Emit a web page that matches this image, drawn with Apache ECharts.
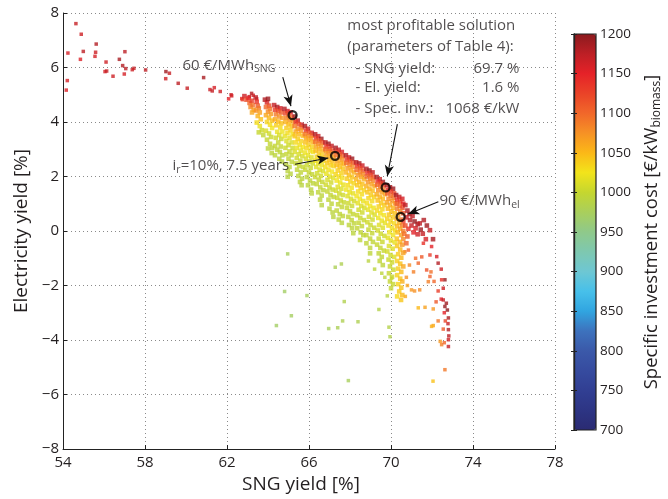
<!DOCTYPE html>
<html><head><meta charset="utf-8">
<script src="https://cdn.jsdelivr.net/npm/echarts@6/dist/echarts.min.js"></script>
<style>html,body{margin:0;padding:0;background:#fff}#c{width:668px;height:499px}</style>
</head><body><div id="c"></div>
<script>
// [SNG yield %, electricity yield %, specific investment cost €/kW]
const tailPoints = [
[54.63,7.61,1170],[54.24,6.53,1160],[54.89,7.22,1165],[54.85,6.30,1155],[54.99,6.59,1175],[55.62,6.86,1180],[55.59,6.56,1165],[55.56,6.41,1160],[56.10,6.20,1165],[54.21,5.52,1160],[54.16,5.17,1155],[56.05,5.85,1160],[56.13,5.87,1170],[56.44,5.68,1165],[56.75,6.30,1185],[57.02,6.58,1175],[56.91,6.07,1180],[57.06,5.96,1175],[56.99,5.76,1160],[57.38,5.92,1165],[57.46,5.97,1170],[58.03,5.91,1175],[59.02,5.85,1190],[59.19,5.79,1170],[59.01,5.59,1165],[59.62,5.42,1175],[60.06,5.24,1170],[60.86,5.63,1185],[61.17,5.19,1165],[61.28,5.14,1170],[61.38,5.26,1160],[61.67,5.12,1165],[62.08,4.85,1150],[62.23,4.96,1160],[62.2,5.0,1165],[62.72,4.86,1145],[62.75,4.82,1130],[63.09,4.93,1175],[63.20,5.05,1180],[63.28,4.98,1165],[63.45,4.85,1150]
];
const bandLeft = [
[62.85,4.95,1165],[62.95,4.82,1120],[63.05,4.88,1150],[63.1,4.7,1100],[63.2,4.78,1130],[63.15,4.55,1080],[63.25,4.62,1095],[63.3,4.45,1070],[63.22,4.35,1060],
[63.4,4.9,1175],[63.45,4.74,1140],[63.5,4.6,1110],[63.55,4.5,1090],[63.42,4.42,1075],[63.6,4.35,1065],[63.5,4.22,1055],[63.65,4.1,1045],[63.45,3.98,1030],[63.6,3.85,1020],[63.7,3.7,1005],[63.77,3.52,997],[63.55,3.62,1000],
[63.85,4.82,1180],[63.95,4.72,1160],[64.0,4.85,1190],[64.05,4.6,1120],[63.9,4.55,1100],[64.1,4.48,1095],[64.0,4.38,1080],[64.15,4.3,1070],[63.9,4.25,1060],[64.05,4.15,1050],[64.2,4.05,1045],[63.95,4.0,1035],[64.1,3.9,1030],[64.2,3.78,1025],[63.9,3.68,1010],[64.05,3.58,1005],[64.15,3.45,1003],[63.95,3.35,1000],[64.1,3.2,998],[64.2,3.05,995],[64.0,3.03,993],[64.18,2.86,992],
[64.3,4.62,1170],[64.45,4.55,1185],[64.6,4.5,1160],[64.35,4.45,1130],[64.5,4.4,1120],[64.65,4.35,1110],[64.4,4.28,1090],[64.55,4.2,1075],[64.7,4.15,1070],[64.34,4.1,1060],[64.5,4.02,1050],[64.65,3.95,1045],[64.4,3.88,1038],[64.6,3.8,1030],[64.45,3.64,1020],[64.7,3.65,1022],[64.55,3.52,1012],[64.38,3.42,1005],[64.65,3.38,1003],[64.5,3.25,1000],[64.35,3.12,998],[64.62,3.1,999],[64.45,2.98,995],[64.58,2.9,994],[64.7,2.78,993],[64.34,2.78,992],[64.55,2.65,991],[64.68,2.55,990],
[64.8,4.48,1180],[64.95,4.4,1165],[65.1,4.35,1150],[64.85,4.32,1125],[65.0,4.25,1110],[65.15,4.18,1100],[64.9,4.15,1085],[65.05,4.08,1075],[65.2,4.02,1065],[64.85,4.0,1055],[65.0,3.92,1050],[65.15,3.85,1045],[64.9,3.78,1040],[65.1,3.7,1035],[64.95,3.6,1030],[65.2,3.55,1028],[64.82,3.48,1020],[65.05,3.42,1018],[64.9,3.3,1012],[65.15,3.25,1010],[65.0,3.15,1005],[64.85,3.05,1003],[65.2,3.05,1005],[65.05,2.92,1002],[64.9,2.82,999],[65.15,2.78,1000],[65.0,2.65,997],[65.16,2.54,995],[64.88,2.45,993],[65.05,2.35,992],[64.96,2.2,991],[65.1,2.1,990],[64.96,1.99,988],
[65.3,4.2,1190],[65.45,4.05,1175],[65.64,3.9,1165],[65.35,4.0,1135],[65.5,3.92,1120],[65.65,3.8,1105],[65.3,3.85,1090],[65.45,3.75,1080],[65.6,3.68,1070],[65.35,3.65,1060],[65.5,3.55,1052],[65.7,3.5,1048],[65.3,3.48,1045],[65.45,3.38,1040],[65.6,3.3,1035],[65.35,3.25,1032],[65.55,3.15,1028],[65.7,3.08,1025],[65.4,3.05,1020],[65.6,2.95,1018],[65.3,2.9,1012],[65.5,2.82,1010],[65.68,2.75,1008],[65.4,2.68,1005],[65.58,2.58,1003],[65.35,2.48,1000],[65.52,2.4,999],[65.7,2.35,1000],[65.42,2.25,997],[65.6,2.15,995],[65.48,2.02,993],[65.66,1.92,992],[65.56,1.8,991],[65.64,1.68,990]
];
const bandMiddle = [
[65.8,3.85,1185],[65.95,3.75,1170],[66.13,3.6,1160],[65.85,3.68,1130],[66.0,3.6,1115],[66.15,3.5,1105],[65.8,3.55,1090],[65.95,3.48,1080],[66.1,3.4,1072],[65.85,3.4,1062],[66.0,3.32,1055],[66.2,3.25,1050],[65.82,3.25,1046],[65.98,3.15,1040],[66.15,3.08,1036],[65.88,3.05,1033],[66.05,2.95,1030],[66.2,2.9,1026],[65.8,2.88,1022],[65.95,2.78,1020],[66.12,2.7,1015],[65.85,2.65,1010],[66.02,2.55,1008],[66.18,2.48,1005],[65.9,2.42,1003],[66.08,2.32,1002],[65.82,2.25,1000],[66.0,2.15,999],[66.15,2.08,998],[65.9,1.98,995],[66.05,1.85,994],[66.2,1.75,993],[65.95,1.68,992],[66.1,1.52,991],[66.13,1.38,990],
[66.3,3.55,1180],[66.45,3.48,1165],[66.6,3.38,1190],[66.35,3.4,1135],[66.5,3.32,1120],[66.65,3.25,1110],[66.3,3.28,1095],[66.45,3.2,1085],[66.6,3.12,1075],[66.35,3.1,1065],[66.5,3.02,1058],[66.68,2.95,1052],[66.32,2.95,1048],[66.48,2.85,1044],[66.62,2.78,1040],[66.38,2.72,1035],[66.55,2.65,1032],[66.7,2.58,1030],[66.3,2.58,1026],[66.45,2.48,1022],[66.62,2.42,1020],[66.35,2.35,1015],[66.52,2.25,1012],[66.68,2.2,1010],[66.4,2.12,1005],[66.58,2.02,1005],[66.3,1.98,1002],[66.48,1.88,1000],[66.65,1.8,1000],[66.38,1.72,998],[66.55,1.6,997],[66.7,1.5,995],[66.45,1.42,994],[66.62,1.3,993],[66.54,1.15,991],[66.62,0.95,990],
[66.8,3.25,1175],[66.95,3.2,1190],[67.1,3.12,1170],[66.85,3.1,1140],[67.0,3.02,1125],[67.15,2.95,1115],[66.8,3.0,1100],[66.95,2.92,1090],[67.1,2.85,1082],[66.85,2.85,1070],[67.0,2.75,1062],[67.2,2.7,1058],[66.82,2.7,1055],[66.98,2.6,1050],[67.15,2.55,1046],[66.88,2.5,1042],[67.05,2.42,1038],[67.2,2.38,1035],[66.8,2.35,1030],[66.95,2.25,1028],[67.12,2.18,1025],[66.85,2.1,1020],[67.02,2.0,1016],[67.18,1.95,1014],[66.9,1.88,1010],[67.08,1.78,1006],[66.82,1.7,1005],[67.0,1.6,1003],[67.15,1.52,1002],[66.9,1.45,1000],[67.05,1.32,998],[67.2,1.25,997],[66.95,1.15,995],[67.1,1.0,994],[67.0,0.82,993],[67.19,0.52,991],[67.15,0.68,992],
[67.3,3.05,1185],[67.45,2.98,1170],[67.6,2.9,1160],[67.35,2.9,1130],[67.5,2.82,1115],[67.65,2.75,1105],[67.32,2.78,1095],[67.48,2.7,1085],[67.62,2.62,1075],[67.38,2.58,1065],[67.55,2.5,1058],[67.7,2.45,1055],[67.35,2.42,1050],[67.5,2.35,1046],[67.65,2.28,1042],[67.4,2.22,1040],[67.58,2.12,1036],[67.3,2.08,1033],[67.45,2.0,1030],[67.62,1.95,1028],[67.35,1.85,1025],[67.52,1.78,1022],[67.68,1.7,1020],[67.4,1.62,1015],[67.58,1.55,1012],[67.32,1.48,1008],[67.48,1.38,1005],[67.65,1.32,1005],[67.38,1.22,1003],[67.55,1.12,1002],[67.7,1.05,1001],[67.42,0.98,999],[67.6,0.88,998],[67.35,0.75,996],[67.5,0.62,995],[67.65,0.55,995],[67.45,0.42,993],[67.6,0.3,992],
[67.8,2.78,1180],[67.95,2.7,1165],[68.1,2.65,1190],[67.85,2.62,1135],[68.0,2.55,1120],[68.16,2.5,1110],[67.82,2.5,1098],[67.98,2.42,1088],[68.12,2.35,1078],[67.88,2.3,1068],[68.05,2.22,1060],[68.2,2.15,1056],[67.8,2.15,1052],[67.95,2.05,1048],[68.1,1.98,1044],[67.85,1.92,1040],[68.02,1.82,1036],[68.18,1.75,1033],[67.9,1.68,1030],[68.08,1.58,1027],[67.82,1.52,1024],[67.98,1.42,1020],[68.15,1.38,1018],[67.88,1.28,1014],[68.05,1.18,1010],[68.2,1.1,1008],[67.92,1.02,1004],[68.1,0.92,1003],[67.85,0.85,1001],[68.0,0.72,1000],[68.15,0.62,999],[67.92,0.52,997],[68.08,0.4,996],[68.2,0.28,995],[67.95,0.22,994],[68.1,0.1,993],[68.16,-0.08,992]
];
const bandRight = [
[68.3,2.52,1175],[68.45,2.48,1185],[68.6,2.4,1165],[68.35,2.38,1140],[68.5,2.3,1125],[68.65,2.22,1112],[68.32,2.25,1100],[68.48,2.15,1090],[68.62,2.08,1082],[68.38,2.05,1072],[68.55,1.98,1064],[68.7,1.9,1058],[68.3,1.9,1054],[68.45,1.8,1050],[68.6,1.72,1046],[68.35,1.68,1042],[68.52,1.58,1038],[68.68,1.5,1035],[68.4,1.45,1032],[68.58,1.35,1030],[68.32,1.28,1026],[68.48,1.18,1024],[68.65,1.1,1020],[68.38,1.02,1016],[68.55,0.92,1012],[68.7,0.85,1010],[68.42,0.78,1006],[68.6,0.68,1005],[68.35,0.58,1003],[68.5,0.48,1002],[68.68,0.4,1001],[68.42,0.3,999],[68.58,0.18,998],[68.35,0.1,997],[68.52,-0.05,996],[68.65,-0.15,995],[68.49,-0.33,994],
[68.8,2.28,1180],[68.95,2.22,1195],[69.1,2.15,1170],[68.85,2.12,1140],[69.0,2.05,1125],[69.15,1.98,1115],[68.82,2.0,1102],[68.98,1.92,1092],[69.12,1.85,1084],[68.88,1.8,1075],[69.05,1.72,1066],[69.2,1.65,1060],[68.8,1.65,1056],[68.95,1.55,1052],[69.1,1.48,1048],[68.85,1.42,1044],[69.02,1.32,1040],[69.18,1.25,1037],[68.9,1.2,1034],[69.08,1.1,1031],[68.82,1.02,1028],[68.98,0.92,1025],[69.15,0.85,1022],[68.88,0.78,1018],[69.05,0.68,1015],[69.2,0.6,1012],[68.92,0.52,1008],[69.1,0.42,1005],[68.85,0.32,1005],[69.0,0.22,1003],[69.18,0.12,1002],[68.9,0.05,1000],[69.08,-0.08,999],[68.8,-0.15,998],[68.98,-0.28,997],[69.12,-0.4,996],[68.8,-0.45,995],[68.98,-0.62,994],[68.98,-0.82,993],
[69.3,1.98,1185],[69.45,1.9,1170],[69.6,1.8,1190],[69.35,1.82,1145],[69.5,1.75,1130],[69.65,1.68,1118],[69.32,1.7,1105],[69.48,1.62,1095],[69.62,1.52,1086],[69.38,1.5,1076],[69.55,1.42,1068],[69.7,1.35,1062],[69.3,1.35,1058],[69.45,1.25,1054],[69.6,1.18,1050],[69.35,1.12,1046],[69.52,1.02,1042],[69.68,0.95,1040],[69.4,0.9,1037],[69.58,0.8,1034],[69.32,0.75,1031],[69.48,0.65,1028],[69.65,0.58,1026],[69.38,0.48,1022],[69.55,0.38,1020],[69.7,0.3,1018],[69.42,0.22,1014],[69.6,0.12,1012],[69.35,0.02,1008],[69.5,-0.1,1005],[69.68,-0.18,1005],[69.4,-0.28,1003],[69.58,-0.4,1002],[69.32,-0.5,1000],[69.48,-0.62,999],[69.65,-0.72,1000],[69.4,-0.82,997],[69.55,-0.95,996],[69.45,-1.1,995],[69.6,-1.25,994],
[69.8,1.68,1180],[69.95,1.6,1170],[70.1,1.55,1192],[69.85,1.5,1145],[70.0,1.45,1130],[70.15,1.38,1120],[69.82,1.38,1108],[69.98,1.3,1098],[70.12,1.22,1090],[69.88,1.18,1080],[70.05,1.1,1072],[70.2,1.02,1066],[69.8,1.05,1062],[69.95,0.95,1058],[70.1,0.85,1054],[69.85,0.82,1050],[70.02,0.72,1047],[70.18,0.65,1045],[69.9,0.6,1042],[70.08,0.5,1040],[69.82,0.45,1036],[69.98,0.35,1034],[70.15,0.28,1032],[69.88,0.2,1030],[70.05,0.1,1028],[70.2,0.02,1030],[69.92,-0.05,1024],[70.1,-0.15,1022],[69.85,-0.25,1018],[70.0,-0.35,1016],[70.18,-0.42,1020],[69.9,-0.55,1012],[70.08,-0.65,1014],[69.82,-0.75,1008],[69.98,-0.88,1006],[70.15,-0.95,1012],[69.88,-1.05,1004],[70.05,-1.15,1005],[69.95,-1.3,1002],[70.12,-1.42,1004],[69.9,-1.55,1000],[70.05,-1.68,1002],[69.95,-1.85,998],[70.1,-1.95,1001],[70.0,-2.1,997],
[70.25,1.32,1185],[70.4,1.25,1170],[70.55,1.18,1160],[70.3,1.15,1140],[70.45,1.08,1128],[70.6,1.0,1150],[70.28,1.0,1110],[70.42,0.92,1100],[70.56,0.85,1120],[70.3,0.82,1088],[70.45,0.72,1080],[70.6,0.65,1110],[70.35,0.6,1070],[70.5,0.42,1095],[70.6,0.35,1130],[70.28,0.45,1062],[70.4,0.3,1058],[70.55,0.2,1090],[70.3,0.18,1052],[70.45,0.08,1060],[70.6,0.0,1085],[70.32,-0.05,1048],[70.5,-0.15,1065],[70.6,-0.3,1078],[70.28,-0.28,1045],[70.42,-0.4,1050],[70.55,-0.5,1070],[70.3,-0.55,1042],[70.45,-0.68,1048],[70.6,-0.8,1065],[70.35,-0.85,1040],[70.5,-0.98,1050],[70.3,-1.1,1038],[70.45,-1.2,1045],[70.6,-1.3,1060],[70.35,-1.38,1040],[70.5,-1.5,1048],[70.3,-1.62,1036],[70.45,-1.75,1042],[70.55,-1.85,1055],[70.35,-1.95,1035],[70.5,-2.08,1045],[70.4,-2.22,1040],[70.55,-2.35,1050],[70.49,-2.53,1042],[70.3,-2.4,1032]
];
const redCluster = [
[70.7,0.95,1175],[70.8,0.75,1185],[70.9,0.62,1190],[70.75,0.5,1165],[70.93,0.4,1180],[71.05,0.55,1175],[71.15,0.35,1195],[71.0,0.2,1170],[71.2,0.1,1160],[71.3,0.25,1185],[71.4,0.28,1175],[71.45,0.05,1190],[71.1,-0.05,1150],[71.3,-0.12,1165],[71.55,-0.1,1170],[70.85,0.08,1140],[70.7,0.2,1120],[70.8,-0.2,1110],[71.6,0.4,1180],[71.75,0.2,1190],[71.9,0.03,1170],[72.05,-0.3,1185],[71.7,-0.3,1160],[70.75,-0.45,1100],[70.65,-0.1,1095]
];
const fanPoints = [
[71.58,-0.45,1140],[71.98,-0.57,1150],[71.9,-0.88,1130],[72.23,-0.94,1160],[72.3,-1.18,1180],[72.45,-1.4,1165],[72.63,-1.79,1195],[70.68,-0.76,1090],[70.85,-0.7,1100],[71.33,-1.18,1100],[71.5,-0.95,1110],[71.74,-1.43,1115],[71.95,-1.5,1095],[71.9,-1.67,1105],[72.1,-1.85,1100],[72.47,-1.79,1140],[72.3,-2.2,1130],[72.55,-2.1,1165],[72.45,-2.5,1150],[72.55,-2.53,1170],[72.63,-2.77,1195],[72.7,-2.65,1190],[72.75,-2.9,1200],[72.8,-3.19,1185],[72.78,-3.4,1170],[72.8,-3.62,1180],[72.82,-3.85,1175],[72.8,-3.99,1165],[72.8,-4.24,1170],[72.47,-4.17,1085],[72.4,-4.05,1070],[72.06,-3.47,1060],[72.3,-3.3,1090],[72.55,-3.6,1110],[72.06,-2.86,1070],[71.66,-2.8,1065],[71.33,-2.82,1050],[71.0,-2.16,1070],[71.15,-2.2,1075],[71.4,-2.16,1080],[71.82,-1.86,1085],[70.9,-1.25,1080],[71.1,-1.5,1085],[70.75,-1.7,1075],[70.8,-2.0,1065],[70.7,-2.4,1060],[71.2,-1.0,1095],[72.63,-5.09,1090],[72.05,-5.51,1045],[72.2,-2.6,1110],[72.6,-3.0,1150],[72.65,-3.3,1125],[71.98,-3.5,1055],[72.6,-4.1,1100]
];
const outlierPoints = [
[64.96,-0.84,975],[67.28,-1.33,978],[67.58,-1.21,980],[64.81,-2.22,970],[65.9,-2.37,975],[65.14,-3.11,972],[64.41,-3.47,970],[66.96,-3.58,975],[67.4,-3.55,978],[67.64,-3.3,980],[67.72,-2.59,982],[68.39,-3.33,980],[69.41,-2.88,985],[69.9,-3.53,985],[69.95,-3.88,983],[67.92,-5.49,975],[69.82,-2.38,988],[68.9,-1.1,990],[69.2,-1.4,992],[69.7,-1.7,993],[69.55,-1.55,993],[70.03,-1.73,996]
];
// highlighted solutions (circles): 60 €/MWh_SNG, i_r=10 %, most profitable, 90 €/MWh_el
const highlighted = [[65.2,4.25],[67.27,2.76],[69.74,1.60],[70.47,0.52]];
const profitable = { sng: '69.7 %', el: '1.6 %', inv: '1068 €/kW' };
const xRange = [54, 78, 4];
const yRange = [-8, 8, 2];
const costRange = [700, 1200, 50];

const FONT = 'Open Sans';
const TXT = '#231f20';
const jet = ['#2a2b72','#2d3584','#313f93','#364b9f','#3b59a9','#3d72bd','#31a5e0','#47c0ea','#6ec7d3','#7ec8b0','#8fc98a','#a9cf5c','#c5d62f','#f2e41b','#fbb817','#f69125','#f1672a','#ea4328','#e52228','#bd1f25','#8b1a1e'];

const densePoints = [].concat(bandLeft, bandMiddle, bandRight, redCluster);
const sparsePoints = [].concat(tailPoints, fanPoints, outlierPoints);

const rich = {
  m: { fontFamily: FONT, fontSize: 15, color: TXT, lineHeight: 19, verticalAlign: 'middle' },
  s: { fontFamily: FONT, fontSize: 10.5, color: TXT, lineHeight: 11, verticalAlign: 'bottom' }
};
function lbl(x, y, text, align) {
  return { value: [x, y], label: { show: true, position: [0, 0], align: align, verticalAlign: 'middle', formatter: text, rich: rich, fontFamily: FONT, fontSize: 15, color: TXT } };
}
const labels = [
  lbl(59.85, 6.06, '{m|60 €/MWh}{s|SNG}', 'left'),
  lbl(59.37, 2.38, '{m|i}{s|r}{m|=10%, 7.5 years}', 'left'),
  lbl(72.39, 1.10, '{m|90 €/MWh}{s|el}', 'left'),
  lbl(71.99, 7.52, '{m|most profitable solution}', 'center'),
  lbl(71.95, 6.75, '{m|(parameters of Table 4):}', 'center'),
  lbl(68.29, 5.93, '{m|- SNG yield:}', 'left'),
  lbl(76.29, 5.93, '{m|' + profitable.sng + '}', 'right'),
  lbl(68.29, 5.23, '{m|- El. yield:}', 'left'),
  lbl(76.29, 5.23, '{m|' + profitable.el + '}', 'right'),
  lbl(68.29, 4.46, '{m|- Spec. inv.:}', 'left'),
  lbl(76.29, 4.46, '{m|' + profitable.inv + '}', 'right')
];
const arrows = [
  [[64.72, 5.65], [65.12, 4.58]],
  [[65.32, 2.45], [66.94, 2.68]],
  [[70.31, 3.92], [69.82, 2.01]],
  [[72.31, 1.07], [70.84, 0.62]]
];

const axisText = { color: TXT, fontFamily: FONT, fontSize: 15 };
const minus = v => String(v).replace('-', '\u2212');

const chart = echarts.init(document.getElementById('c'), null, { renderer: 'canvas' });
chart.setOption({
  animation: false,
  backgroundColor: '#fff',
  grid: [
    { left: 63, top: 13, width: 492, height: 437, show: false },
    { left: 574, top: 34, width: 22, height: 396, show: true, borderColor: '#222', borderWidth: 1.2, backgroundColor: 'transparent', z: 20 }
  ],
  xAxis: [
    { type: 'value', gridIndex: 0, min: xRange[0], max: xRange[1], interval: xRange[2],
      axisLine: { show: true, onZero: false, lineStyle: { color: '#222', width: 1 } },
      axisTick: { show: true, inside: true, length: 4, lineStyle: { color: '#222' } },
      axisLabel: Object.assign({ margin: 6 }, axisText),
      splitLine: { show: true, lineStyle: { color: '#8a8a8a', width: 1, type: [1, 3] } },
      name: 'SNG yield [%]', nameLocation: 'middle', nameGap: 26,
      nameTextStyle: { color: TXT, fontFamily: FONT, fontSize: 19, padding: [0, 16, 0, 0] } },
    { type: 'value', gridIndex: 1, min: 0, max: 1, show: false }
  ],
  yAxis: [
    { type: 'value', gridIndex: 0, min: yRange[0], max: yRange[1], interval: yRange[2],
      axisLine: { show: true, onZero: false, lineStyle: { color: '#222', width: 1 } },
      axisTick: { show: true, inside: true, length: 4, lineStyle: { color: '#222' } },
      axisLabel: Object.assign({ margin: 4, formatter: minus }, axisText),
      splitLine: { show: true, lineStyle: { color: '#8a8a8a', width: 1, type: [1, 3] } },
      name: 'Electricity yield [%]', nameLocation: 'middle', nameGap: 29, nameRotate: 90,
      nameTextStyle: { color: TXT, fontFamily: FONT, fontSize: 19 } },
    { type: 'value', gridIndex: 1, position: 'right', min: costRange[0], max: costRange[1], interval: costRange[2], z: 20,
      axisLine: { show: true, lineStyle: { color: '#222', width: 1.2 } },
      axisTick: { show: true, inside: true, length: 3, lineStyle: { color: '#222' } },
      axisLabel: Object.assign({}, axisText, { margin: 4, fontSize: 13.5, formatter: v => String(v) }),
      splitLine: { show: false },
      name: '{m|Specific investment cost [€/kW}{s|biomass}{m|]}', nameLocation: 'middle', nameGap: 45, nameRotate: 90,
      nameTextStyle: { rich: {
        m: { fontFamily: FONT, fontSize: 18.5, color: TXT, lineHeight: 22, verticalAlign: 'middle' },
        s: { fontFamily: FONT, fontSize: 12, color: TXT, lineHeight: 13, verticalAlign: 'bottom' } } } },
    { type: 'value', gridIndex: 1, position: 'left', min: costRange[0], max: costRange[1], interval: costRange[2], z: 20,
      axisLine: { show: true, lineStyle: { color: '#222', width: 1.2 } },
      axisTick: { show: true, inside: true, length: 3, lineStyle: { color: '#222' } },
      axisLabel: { show: false }, splitLine: { show: false } }
  ],
  visualMap: {
    type: 'continuous', min: costRange[0], max: costRange[1], dimension: 2, seriesIndex: [0, 1],
    calculable: false, hoverLink: false, orient: 'vertical', left: 574, top: 34,
    itemWidth: 22, itemHeight: 396, padding: 0, inRange: { color: jet }, z: 4
  },
  series: [
    { type: 'scatter', xAxisIndex: 0, yAxisIndex: 0, data: sparsePoints, symbol: 'rect', symbolSize: 3.5, silent: true, z: 2 },
    { type: 'scatter', xAxisIndex: 0, yAxisIndex: 0, data: densePoints, symbol: 'rect', symbolSize: 4.6, silent: true, z: 2 },
    { type: 'scatter', xAxisIndex: 0, yAxisIndex: 0, data: highlighted, symbol: 'circle', symbolSize: 8, silent: true, z: 5,
      itemStyle: { color: 'rgba(0,0,0,0)', borderColor: '#000', borderWidth: 2.3 },
      markLine: { silent: true, symbol: ['none', 'arrow'], symbolSize: [7, 11], animation: false,
        lineStyle: { color: '#111', width: 1.1, type: 'solid' }, label: { show: false },
        data: arrows.map(a => [{ coord: a[0] }, { coord: a[1] }]) } },
    { type: 'scatter', xAxisIndex: 0, yAxisIndex: 0, data: labels, symbolSize: 1, silent: true, z: 6,
      itemStyle: { color: 'rgba(0,0,0,0)' } }
  ]
});
</script></body></html>
